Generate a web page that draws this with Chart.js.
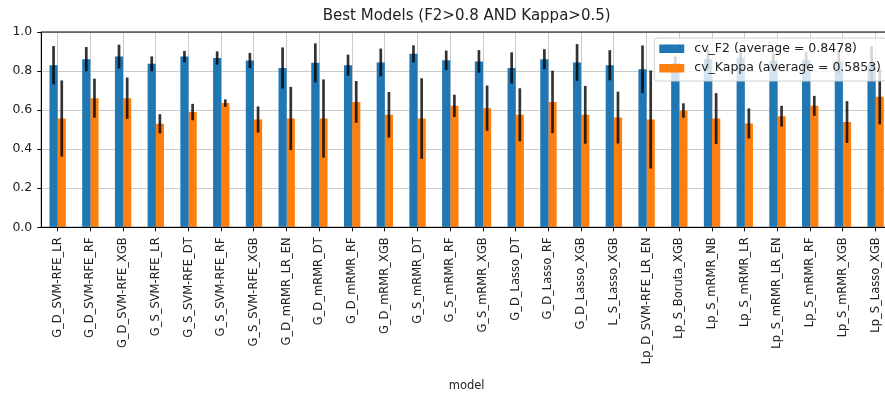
<!DOCTYPE html>
<html>
<head>
<meta charset="utf-8">
<script src="https://cdn.jsdelivr.net/npm/chart.js@4.4.1/dist/chart.umd.min.js"></script>
<style>
  html, body { margin: 0; padding: 0; overflow: hidden; background: #fff; }
  canvas { display: block; }
</style>
</head>
<body>
<canvas id="chart" width="900" height="394"></canvas>
<script>
// Cross-validated scores of the best models (mean and standard deviation)
const models = [
  'G_D_SVM-RFE_LR', 'G_D_SVM-RFE_RF', 'G_D_SVM-RFE_XGB', 'G_S_SVM-RFE_LR',
  'G_S_SVM-RFE_DT', 'G_S_SVM-RFE_RF', 'G_S_SVM-RFE_XGB', 'G_D_mRMR_LR_EN',
  'G_D_mRMR_DT', 'G_D_mRMR_RF', 'G_D_mRMR_XGB', 'G_S_mRMR_DT', 'G_S_mRMR_RF',
  'G_S_mRMR_XGB', 'G_D_Lasso_DT', 'G_D_Lasso_RF', 'G_D_Lasso_XGB', 'L_S_Lasso_XGB',
  'Lp_D_SVM-RFE_LR_EN', 'Lp_S_Boruta_XGB', 'Lp_S_mRMR_NB', 'Lp_S_mRMR_LR',
  'Lp_S_mRMR_LR_EN', 'Lp_S_mRMR_RF', 'Lp_S_mRMR_XGB', 'Lp_S_Lasso_XGB'
];
const f2Mean = [0.830, 0.861, 0.874, 0.837, 0.874, 0.867, 0.854, 0.816, 0.842, 0.830,
                0.844, 0.888, 0.855, 0.849, 0.816, 0.861, 0.844, 0.830, 0.809, 0.840,
                0.862, 0.868, 0.852, 0.858, 0.850, 0.838];
const f2Std = [0.098, 0.062, 0.061, 0.038, 0.029, 0.034, 0.039, 0.105, 0.100, 0.054,
               0.071, 0.044, 0.050, 0.058, 0.080, 0.051, 0.094, 0.077, 0.122, 0.035,
               0.050, 0.040, 0.040, 0.040, 0.060, 0.090];
const kappaMean = [0.557, 0.661, 0.661, 0.530, 0.590, 0.636, 0.552, 0.557, 0.557, 0.642,
                   0.576, 0.557, 0.622, 0.610, 0.576, 0.642, 0.576, 0.562, 0.552, 0.598,
                   0.557, 0.532, 0.569, 0.622, 0.539, 0.668];
const kappaStd = [0.195, 0.100, 0.106, 0.049, 0.042, 0.019, 0.067, 0.162, 0.200, 0.107,
                  0.117, 0.206, 0.057, 0.116, 0.136, 0.160, 0.148, 0.133, 0.251, 0.037,
                  0.130, 0.077, 0.053, 0.051, 0.107, 0.141];
const seriesLabels = ['cv_F2 (average = 0.8478)', 'cv_Kappa (average = 0.5853)'];
const seriesColors = ['#1f77b4', '#ff7f0e'];
const chartTitle = 'Best Models (F2>0.8 AND Kappa>0.5)';
const xAxisTitle = 'model';

const FONT = 'DejaVu Sans';
const TEXT = '#222';
const GRID = '#cbcbcb';

// Vertical error bars (mean ± std) plus the closed axes frame
const errorBarPlugin = {
  id: 'errorBars',
  afterDatasetsDraw(chart) {
    const { ctx, chartArea: a } = chart;
    const y = chart.scales.y;
    ctx.save();
    ctx.strokeStyle = 'rgba(0,0,0,0.8)';
    ctx.lineWidth = 2.7;
    chart.data.datasets.forEach((ds, i) => {
      const meta = chart.getDatasetMeta(i);
      meta.data.forEach((bar, j) => {
        const m = ds.data[j], e = ds.errors[j];
        ctx.beginPath();
        ctx.moveTo(bar.x, y.getPixelForValue(m - e));
        ctx.lineTo(bar.x, y.getPixelForValue(m + e));
        ctx.stroke();
      });
    });
    ctx.strokeStyle = '#000';
    ctx.lineWidth = 1;
    ctx.strokeRect(a.left, a.top, a.right - a.left, a.bottom - a.top);
    ctx.restore();
  }
};

// Legend box placed inside the plot, upper right
const innerLegendPlugin = {
  id: 'innerLegend',
  afterDraw(chart) {
    const { ctx, chartArea: a } = chart;
    const ds = chart.data.datasets;
    ctx.save();
    ctx.font = `12.5px "${FONT}"`;
    const textW = Math.max(...ds.map(d => ctx.measureText(d.label).width));
    const w = 40 + textW + 5;
    const h = 43;
    const right = a.right - 6;
    const left = right - w;
    const top = a.top + 6;
    ctx.beginPath();
    ctx.roundRect(left, top, w, h, 3);
    ctx.fillStyle = 'rgba(255,255,255,0.8)';
    ctx.fill();
    ctx.strokeStyle = '#d0d0d0';
    ctx.lineWidth = 1;
    ctx.stroke();
    ds.forEach((d, i) => {
      const cy = top + 10.5 + i * 19.5;
      ctx.fillStyle = d.backgroundColor;
      ctx.fillRect(left + 5, cy - 4, 25, 8.5);
      ctx.fillStyle = TEXT;
      ctx.textBaseline = 'middle';
      ctx.textAlign = 'left';
      ctx.fillText(d.label, left + 40, cy);
    });
    ctx.restore();
  }
};

new Chart(document.getElementById('chart'), {
  type: 'bar',
  data: {
    labels: models,
    datasets: [
      { label: seriesLabels[0], data: f2Mean, errors: f2Std,
        backgroundColor: seriesColors[0], borderWidth: 0 },
      { label: seriesLabels[1], data: kappaMean, errors: kappaStd,
        backgroundColor: seriesColors[1], borderWidth: 0 }
    ]
  },
  options: {
    responsive: false,
    animation: false,
    devicePixelRatio: 1,
    datasets: { bar: { categoryPercentage: 0.5, barPercentage: 1.0 } },
    layout: { padding: { left: 0, right: 8, top: 0, bottom: 0 } },
    plugins: {
      legend: { display: false },
      tooltip: { enabled: false },
      title: {
        display: true,
        text: chartTitle,
        fullSize: false,
        color: TEXT,
        font: { family: FONT, size: 15, weight: 'normal' },
        padding: { top: 7.5, bottom: 6.5 }
      }
    },
    scales: {
      x: {
        afterFit(scale) { scale.height = 166.7; },
        grid: { offset: false, color: GRID, lineWidth: 1, tickColor: '#000', tickLength: 4 },
        border: { display: true, color: '#000', width: 1 },
        ticks: {
          autoSkip: false, minRotation: 90, maxRotation: 90, padding: 6,
          color: TEXT, font: { family: FONT, size: 11.5 }
        },
        title: {
          display: true, text: xAxisTitle, color: TEXT,
          font: { family: FONT, size: 11.5 }, padding: { top: 0, bottom: 1 }
        }
      },
      y: {
        min: 0, max: 1,
        afterFit(scale) { scale.width = 41.3; },
        grid: { color: GRID, lineWidth: 1, tickColor: '#000', tickLength: 4 },
        border: { display: true, color: '#000', width: 1 },
        ticks: {
          stepSize: 0.2, padding: 5, color: TEXT,
          font: { family: FONT, size: 12.5 },
          callback: v => Number(v).toFixed(1)
        }
      }
    }
  },
  plugins: [errorBarPlugin, innerLegendPlugin]
});
</script>
</body>
</html>
